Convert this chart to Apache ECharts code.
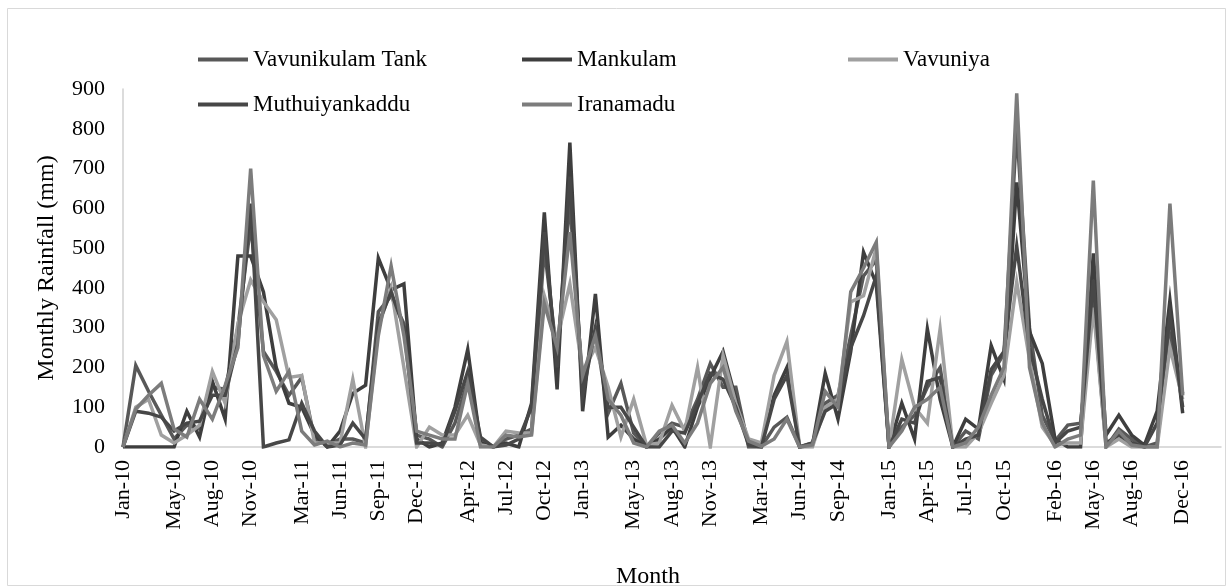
<!DOCTYPE html>
<html>
<head>
<meta charset="utf-8">
<script src="https://cdn.jsdelivr.net/npm/echarts@6/dist/echarts.min.js"></script>
<style>
html,body{margin:0;padding:0;background:#fff;}
#chart{width:1232px;height:588px;}
</style>
</head>
<body>
<div id="chart"></div>
<script>
// ---- data ----
const months = [
 'Jan-10','Feb-10','Mar-10','Apr-10','May-10','Jun-10','Jul-10','Aug-10','Sep-10','Oct-10','Nov-10','Dec-10',
 'Jan-11','Feb-11','Mar-11','Apr-11','May-11','Jun-11','Jul-11','Aug-11','Sep-11','Oct-11','Nov-11','Dec-11',
 'Jan-12','Feb-12','Mar-12','Apr-12','May-12','Jun-12','Jul-12','Aug-12','Sep-12','Oct-12','Nov-12','Dec-12',
 'Jan-13','Feb-13','Mar-13','Apr-13','May-13','Jun-13','Jul-13','Aug-13','Sep-13','Oct-13','Nov-13','Dec-13',
 'Jan-14','Feb-14','Mar-14','Apr-14','May-14','Jun-14','Jul-14','Aug-14','Sep-14','Oct-14','Nov-14','Dec-14',
 'Jan-15','Feb-15','Mar-15','Apr-15','May-15','Jun-15','Jul-15','Aug-15','Sep-15','Oct-15','Nov-15','Dec-15',
 'Jan-16','Feb-16','Mar-16','Apr-16','May-16','Jun-16','Jul-16','Aug-16','Sep-16','Oct-16','Nov-16','Dec-16'
];
const tickLabels = ['Jan-10','May-10','Aug-10','Nov-10','Mar-11','Jun-11','Sep-11','Dec-11','Apr-12','Jul-12',
 'Oct-12','Jan-13','May-13','Aug-13','Nov-13','Mar-14','Jun-14','Sep-14','Jan-15','Apr-15','Jul-15','Oct-15',
 'Feb-16','May-16','Aug-16','Dec-16'];

const vavunikulamTank = [
 0,205,140,80,20,55,45,150,145,300,560,240,
 190,130,175,20,5,20,20,10,340,380,310,30,
 20,0,60,165,20,0,20,30,45,500,230,620,
 150,290,85,160,35,0,35,60,50,120,210,150,
 150,0,0,50,75,0,10,110,130,280,430,470,
 0,50,80,150,200,0,40,20,180,235,800,300,
 80,15,55,60,370,0,45,20,0,10,280,134
];
const mankulam = [
 0,0,0,0,0,90,25,165,70,480,480,390,
 200,110,100,30,0,40,135,155,475,395,410,20,
 0,10,100,245,10,0,10,0,110,590,145,765,
 90,385,25,55,20,0,20,50,0,100,175,240,
 120,10,5,130,200,0,5,185,70,240,490,410,
 0,110,20,297,120,0,70,45,255,170,665,290,
 210,20,0,0,487,30,80,30,5,90,369,85
];
const vavuniya = [
 0,100,120,30,10,30,55,190,110,310,420,365,
 320,175,180,10,10,10,170,0,300,400,200,0,
 50,30,30,80,5,0,40,35,35,380,270,410,
 190,250,150,25,120,5,10,105,40,200,0,230,
 110,20,10,180,265,0,0,100,120,365,380,500,
 0,220,100,60,297,0,0,35,110,180,415,220,
 50,5,10,10,350,0,20,0,0,0,250,120
];
const muthuiyankaddu = [
 0,90,85,75,40,60,65,130,130,260,612,0,
 10,18,110,40,0,5,60,20,310,390,300,10,
 10,5,90,190,25,0,5,20,100,540,200,680,
 130,300,100,100,50,0,0,40,35,110,185,170,
 100,5,0,120,180,0,10,90,110,250,330,430,
 0,70,60,165,175,0,20,30,195,240,505,250,
 120,10,40,50,420,10,30,10,0,60,330,100
];
const iranamadu = [
 0,95,130,160,45,25,120,70,155,250,700,230,
 140,190,40,5,15,0,10,5,280,455,280,40,
 30,20,20,160,0,0,30,25,30,360,250,540,
 180,280,120,80,10,0,40,55,10,60,160,200,
 90,15,2,20,70,0,5,140,100,390,450,515,
 0,40,100,120,150,0,10,50,130,200,889,200,
 60,0,20,30,670,0,40,5,0,0,612,130
];

const seriesNames = ['Vavunikulam Tank','Mankulam','Vavuniya','Muthuiyankaddu','Iranamadu'];
const seriesData = [vavunikulamTank, mankulam, vavuniya, muthuiyankaddu, iranamadu];
const seriesColors = ['#585858','#3e3e3e','#a0a0a0','#474747','#7c7c7c'];

// axis categories: the axis runs three empty slots past the last month
const axisCats = months.concat(['', '', '']);

const font = 'Liberation Serif';
const legendPos = [
  {left: 193, top: 43}, {left: 517, top: 43}, {left: 843, top: 43},
  {left: 193, top: 88}, {left: 517, top: 88}
];

const chart = echarts.init(document.getElementById('chart'), null, {renderer: 'canvas'});
chart.setOption({
  animation: false,
  backgroundColor: '#fff',
  textStyle: {fontFamily: font},
  graphic: [
    {type: 'rect', shape: {x: 7.5, y: 8.5, width: 1218, height: 577},
     style: {fill: 'none', stroke: '#d9d9d9', lineWidth: 1}, silent: true},
    {type: 'text', x: 648, y: 577,
     style: {text: 'Month', font: '24px "Liberation Serif"', fill: '#000', textAlign: 'center', textVerticalAlign: 'middle'}}
  ],
  legend: seriesNames.map((n, i) => ({
    data: [{name: n, icon: 'rect'}], left: legendPos[i].left, top: legendPos[i].top,
    itemWidth: 50, itemHeight: 4, itemGap: 0,
    textStyle: {fontFamily: font, fontSize: 23, color: '#000'},
    selectedMode: false
  })),
  grid: {left: 123, right: 11, top: 89, bottom: 141, containLabel: false},
  xAxis: {
    type: 'category', data: axisCats, boundaryGap: false,
    axisLine: {lineStyle: {color: '#d0d0d0', width: 1.5}},
    axisTick: {show: false},
    splitLine: {show: false},
    axisLabel: {
      rotate: 90, margin: 13, fontFamily: font, fontSize: 22, color: '#000',
      interval: (idx, val) => tickLabels.indexOf(val) >= 0
    }
  },
  yAxis: {
    type: 'value', min: 0, max: 900, interval: 100,
    name: 'Monthly Rainfall (mm)', nameLocation: 'middle', nameGap: 64,
    nameTextStyle: {fontFamily: font, fontSize: 24, color: '#000'},
    axisLine: {show: true, lineStyle: {color: '#d0d0d0', width: 1.5}},
    axisTick: {show: false},
    splitLine: {show: false},
    axisLabel: {margin: 18, fontFamily: font, fontSize: 22, color: '#000'}
  },
  series: seriesNames.map((n, i) => ({
    name: n, type: 'line', data: seriesData[i],
    symbol: 'none', color: seriesColors[i],
    lineStyle: {width: 3.5, color: seriesColors[i], join: 'miter'},
    emphasis: {disabled: true}
  }))
});
</script>
</body>
</html>
